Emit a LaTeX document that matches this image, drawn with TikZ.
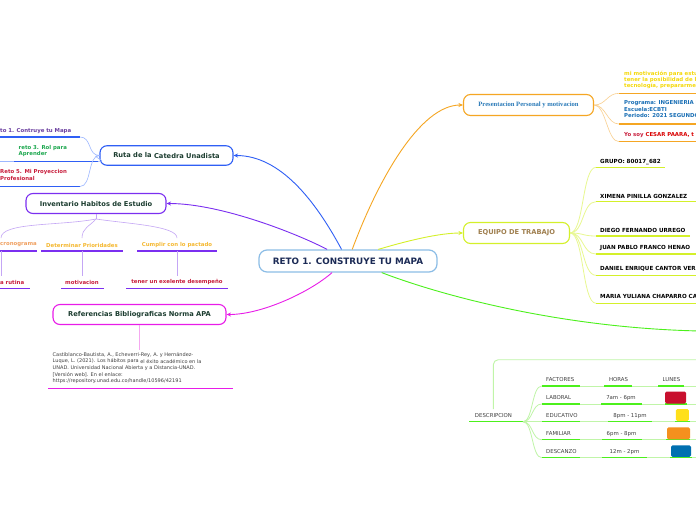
\documentclass[tikz,border=0pt]{standalone}
\usepackage{fontspec}
\setmainfont{DejaVu Sans}
\newfontfamily\serifb{Liberation Serif}
\usetikzlibrary{arrows.meta,calc}
\definecolor{cblue}{HTML}{2F5FF5}
\definecolor{cbluel}{HTML}{9DB8FF}
\definecolor{cpurple}{HTML}{7B2FF0}
\definecolor{cpurplel}{HTML}{C4A6F5}
\definecolor{cmag}{HTML}{E81CE8}
\definecolor{cmagl}{HTML}{F5A8F0}
\definecolor{corange}{HTML}{F5A623}
\definecolor{corangel}{HTML}{F9CF8E}
\definecolor{cyg}{HTML}{D4F02A}
\definecolor{cygl}{HTML}{E8F890}
\definecolor{cgreen}{HTML}{4CF01C}
\definecolor{cgreenl}{HTML}{C0F5A8}
\definecolor{tdark}{HTML}{1C3D30}
\definecolor{tnavy}{HTML}{1B2A55}
\definecolor{cborder}{HTML}{8CBDE6}
\definecolor{tgray}{HTML}{404040}
\definecolor{tcrim}{HTML}{C81E3C}
\definecolor{tgold}{HTML}{F5B830}
\definecolor{tsalmon}{HTML}{F0A060}
\definecolor{tgreen}{HTML}{1EA850}
\definecolor{tpurp}{HTML}{6B3FA0}
\definecolor{tyellow}{HTML}{F5D90A}
\definecolor{tblue}{HTML}{1A6FB5}
\definecolor{tpres}{HTML}{2A7AB8}
\definecolor{tbrown}{HTML}{A08050}
\definecolor{bred}{HTML}{C8102E}
\definecolor{byel}{HTML}{FFE01A}
\definecolor{bora}{HTML}{F5901E}
\definecolor{bblu}{HTML}{0070B0}
\tikzset{
 mnode/.style={draw, rounded corners=7pt, line width=1.1pt, fill=white, inner sep=0pt, text=tdark, font=\bfseries\fontsize{6.7}{8}\selectfont},
 sm/.style={inner sep=0pt, font=\bfseries\fontsize{5.4}{6.6}\selectfont},
 reg/.style={inner sep=0pt, font=\fontsize{5.4}{6.6}\selectfont, text=tgray},
 mainc/.style={line width=0.9pt, -{Stealth[length=4.5pt,width=4pt]}},
 ul/.style={line width=1.3pt},
 subc/.style={line width=0.6pt},
 colbox/.style={rounded corners=1.5pt, draw=none},
}
\begin{document}
\begin{tikzpicture}[x=1pt,y=-1pt]
\useasboundingbox (0,0) rectangle (696,520);
\clip (0,0) rectangle (696,520);
\fill[white] (0,0) rectangle (696,520);

% central
\node[draw=cborder, line width=1.2pt, rounded corners=8pt, fill=white, minimum width=178pt, minimum height=22pt, inner sep=0pt, text=tnavy, font=\bfseries\fontsize{8.8}{10}\selectfont] (c) at (348,261) {RETO 1. CONSTRUYE TU MAPA};

% main nodes
\node[mnode, draw=cblue, minimum width=133pt, minimum height=19.5pt] (ruta) at (166.5,155.5) {\raisebox{1pt}{Ruta de la} Catedra Unadista};
\node[mnode, draw=cpurple, minimum width=140pt, minimum height=20pt] (inv) at (96,203.5) {Inventario Habitos de Estudio};
\node[mnode, draw=cmag, minimum width=173pt, minimum height=20pt] (ref) at (139.5,314.5) {Referencias Bibliograficas Norma APA};
\node[mnode, draw=corange, minimum width=130pt, minimum height=21pt, text=tpres, font=\serifb\bfseries\fontsize{6.6}{8}\selectfont] (pres) at (528.5,105) {Presentacion Personal y motivacion};
\node[mnode, draw=cyg, minimum width=106pt, minimum height=21pt, text=tbrown] (eq) at (516.5,233) {EQUIPO DE TRABAJO};

% main connectors
\draw[mainc, cblue] (c.119) .. controls (315,200) and (280,155.5) .. (ruta.east);
\draw[mainc, cpurple] (c.151) .. controls (300,235) and (222,203.5) .. (inv.east);
\draw[mainc, cmag] (c.216) .. controls (310,292) and (262,314.5) .. (ref.east);
\draw[mainc, corange] (c.70) .. controls (378,180) and (420,105) .. (pres.west);
\draw[mainc, cyg] (c.21) .. controls (410,240) and (440,233) .. (eq.west);
\coordinate (gend) at (700,331);
\draw[line width=0.9pt, cgreen] (c.341) .. controls (440,295) and (560,328) .. (gend);

% Ruta children
\node[sm, text=tpurp, anchor=west] (r1t) at (0,131) {to 1. Contruye tu Mapa};
\coordinate (r1a) at (0,137); \coordinate (r1b) at (80,137);
\draw[ul, cblue] (r1a) -- (r1b);
\node[sm, text=tgreen, anchor=north west, align=left] (r2t) at (18.5,145) {reto 3. Rol para\\Aprender};
\coordinate (r2a) at (0,161.5); \coordinate (r2m) at (14,161.5); \coordinate (r2b) at (98,161.5);
\draw[ul, cbluel] (r2a) -- (r2m);
\draw[ul, cblue] (r2m) -- (r2b);
\node[sm, text=tcrim, anchor=north west, align=left] (r3t) at (0,169.5) {Reto 5. Mi Proyeccion\\Profesional};
\coordinate (r3a) at (0,186.5); \coordinate (r3b) at (80,186.5);
\draw[ul, cblue] (r3a) -- (r3b);
\foreach \t in {r1b,r2b,r3b}
  \draw[subc, cbluel] (ruta.west) .. controls +(-12,0) and +(12,0) .. (\t);

% Inventario children
\coordinate (ij) at (96,219);
\coordinate (i1) at (1,238); \coordinate (i2) at (82,238); \coordinate (i3) at (177,238);
\draw[subc, cpurplel] (inv.south) -- (ij);
\draw[subc, cpurplel] (ij) .. controls (60,226) and (1,222) .. (i1);
\draw[subc, cpurplel] (ij) .. controls (90,226) and (82,228) .. (i2);
\draw[subc, cpurplel] (ij) .. controls (130,224) and (177,226) .. (i3);
\node[sm, text=tsalmon, anchor=west] (i1t) at (0,245) {cronograma};
\node[sm, text=tgold] (i2t) at (82,245) {Determinar Prioridades};
\node[sm, text=tgold] (i3t) at (177,245) {Cumplir con lo pactado};
\draw[ul, cpurple] (0,251) -- (37,251);
\draw[ul, cpurple] (41,251) -- (123,251);
\draw[ul, cpurple] (137,251) -- (217,251);
\coordinate (i1u) at (1,251); \coordinate (i2u) at (82,251); \coordinate (i3u) at (177,251);
\coordinate (j1) at (1,276); \coordinate (j2) at (82,276); \coordinate (j3) at (177,276);
\draw[subc, cpurplel] (i1u) -- (j1);
\draw[subc, cpurplel] (i2u) -- (j2);
\draw[subc, cpurplel] (i3u) -- (j3);
\node[sm, text=tcrim, anchor=west] (j1t) at (0,282) {a rutina};
\node[sm, text=tcrim] (j2t) at (82,282) {motivacion};
\node[sm, text=tcrim] (j3t) at (177,282) {tener un exelente desempeño};
\draw[ul, cpurple] (0,288.5) -- (30,288.5);
\draw[ul, cpurple] (61,288.5) -- (104,288.5);
\draw[ul, cpurple] (126,288.5) -- (228,288.5);

% Referencias child
\coordinate (rf) at (139.5,349.5);
\draw[subc, cmagl, line width=0.8pt] (ref.south) -- (rf);
\node[reg, anchor=north west, align=left, font=\fontsize{5}{6.7}\selectfont] (reft) at (52.5,351.8) {Castiblanco-Bautista, A., Echeverri-Rey, A. y Hernández-\\Luque, L. (2021). Los hábitos para \raisebox{-0.6pt}{el éxito académico en la}\\UNAD. Universidad Nacional Abierta y a Distancia-UNAD.\\{[Versión web]}. En el enlace:\\https://repository.unad.edu.co/handle/10596/42191};
\draw[ul, cmag] (48.3,388.3) -- (232.7,388.3);

% Presentacion children
\node[sm, text=tyellow, anchor=north west, align=left, font=\bfseries\fontsize{5.4}{6.3}\selectfont] (p1t) at (624,70.5) {mi motivación para estudiar\\tener la posibilidad de la\\tecnología, prepararme};
\node[sm, text=tblue, anchor=north west, align=left, font=\bfseries\fontsize{5.4}{6.5}\selectfont] (p2t) at (624,100.5) {Programa: INGENIERIA DE SISTEMAS\\Escuela:ECBTI\\Periodo: 2021 SEGUNDO};
\node[sm, text=tcrim, anchor=west] (p3t) at (624,135.5) {Yo soy \textcolor{red!85!black}{CESAR PAARA, t}};
\coordinate (p1) at (619,93.3); \coordinate (p2) at (619,124); \coordinate (p3) at (619,141.7);
\draw[ul, corange] (p1) -- (700,93.3);
\draw[ul, corange] (p2) -- (700,124);
\draw[ul, corange] (p3) -- (700,141.7);
\foreach \t in {p1,p2,p3}
  \draw[subc, corangel] (pres.east) .. controls +(12,0) and +(-12,0) .. (\t);

% Equipo children
\foreach \n/\ty/\uy/\ue/\txt in {
  e1/162/167.3/665/{GRUPO: 80017\_682},
  e2/196/201.7/700/{XIMENA PINILLA GONZALEZ},
  e3/230/236/690/{DIEGO FERNANDO URREGO},
  e4/248/254/700/{JUAN PABLO FRANCO HENAO},
  e5/268.7/275.3/700/{DANIEL ENRIQUE CANTOR VER},
  e6/296.7/303.3/700/{MARIA YULIANA CHAPARRO CA}} {
  \node[sm, text=black, anchor=west, font=\bfseries\fontsize{5.6}{6.6}\selectfont] (\n t) at (600,\ty) {\txt};
  \coordinate (\n) at (596,\uy);
  \draw[ul, cyg] (\n) -- (\ue,\uy);
  \draw[subc, cygl, line width=0.8pt] (eq.east) .. controls +(14,0) and +(-14,0) .. (\n);
}

% Bottom table
\node[reg] (desc) at (493.5,416) {DESCRIPCION};
\coordinate (dtop) at (493.3,409); \coordinate (dend) at (700,359.7);
\draw[cgreenl, line width=0.9pt, rounded corners=5pt] (dtop) -- (493.3,359.7) -- (dend);
\coordinate (du) at (523,421.7);
\draw[ul, cgreen] (469,421.7) -- (du);
\foreach \n/\y/\a/\b/\hx/\hc/\hy/\hl/\hr/\lx/\lr in {
  t0/380/FACTORES/386/618.5/HORAS/0/604/632/658/684,
  t1/397.7/LABORAL/404/621/{7am - 6pm}/0/601/642/665/687,
  t2/416/EDUCATIVO/421.7/630/{8pm - 11pm}/0/608/652/675/690,
  t3/434/FAMILIAR/439.7/621.5/{6pm - 8pm}/0/602/642/666/690,
  t4/452/DESCANZO/457.7/624.5/{12m - 2pm}/0/602/647/670/692} {
  \coordinate (\n) at (541.7,\b);
  \draw[cgreenl, line width=1pt] (\n) -- (700,\b);
  \draw[ul, cgreen] (\n) -- (580,\b);
  \draw[ul, cgreen] (\hl,\b) -- (\hr,\b);
  \draw[ul, cgreen] (\lx,\b) -- (\lr,\b);
  \node[reg, anchor=west] (\n a) at (546,\y) {\a};
  \node[reg] (\n h) at (\hx,\y) {\hc};
  \draw[cgreenl, line width=0.8pt] (du) .. controls +(10,0) and +(-10,0) .. (\n);
}
\node[reg] (lunes) at (671.5,380) {LUNES};
\node[colbox, fill=bred, minimum width=21pt, minimum height=12pt, inner sep=0pt] (bx1) at (675.5,397.5) {};
\node[colbox, fill=byel, minimum width=13pt, minimum height=12pt, inner sep=0pt] (bx2) at (682.3,415) {};
\node[colbox, fill=bora, minimum width=23pt, minimum height=12pt, inner sep=0pt] (bx3) at (678.5,433.4) {};
\node[colbox, fill=bblu, minimum width=20pt, minimum height=11.5pt, inner sep=0pt] (bx4) at (681,451.2) {};
\end{tikzpicture}
\end{document}
